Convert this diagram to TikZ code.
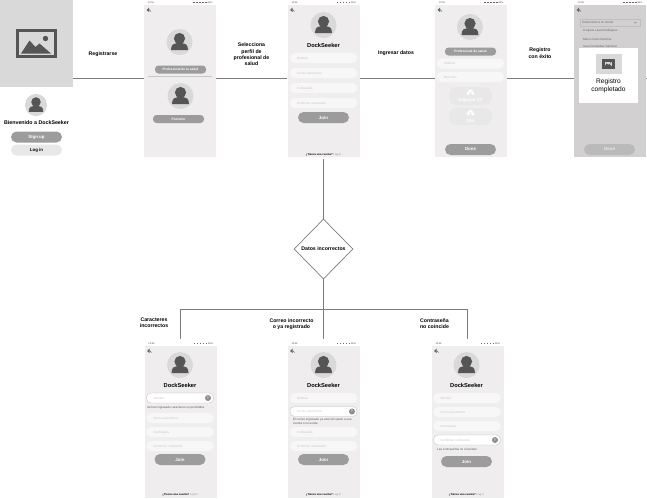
\documentclass[tikz,border=0pt]{standalone}
\usepackage{fontspec}
\setmainfont{Liberation Sans}
\usetikzlibrary{shapes.geometric}

\definecolor{screenbg}{HTML}{EFEDEE}
\definecolor{screendim}{HTML}{D2D0D1}
\definecolor{imggray}{HTML}{D9D9D9}
\definecolor{icondark}{HTML}{555555}
\definecolor{pillgray}{HTML}{9C9C9C}
\definecolor{linegray}{HTML}{7C7C7C}
\definecolor{hintgray}{HTML}{C4C2C3}

\tikzset{
  screen/.style = {rectangle, minimum width=72, minimum height=157, inner sep=0},
  pill/.style = {rectangle, rounded corners=3.5pt, fill=pillgray, text=white, minimum width=51, minimum height=8, inner sep=0, font=\fontsize{3.3}{4}\selectfont\bfseries},
  bigpill/.style = {pill, rounded corners=5.5pt, minimum height=11, font=\fontsize{4.4}{5}\selectfont\bfseries},
  field/.style = {rectangle, rounded corners=4.5pt, fill=white!55!screenbg, text=hintgray, minimum height=10, text width=53, inner xsep=7, inner ysep=0, align=left, font=\fontsize{3}{3.5}\selectfont},
  badfield/.style = {field, fill=white, draw=black!25, line width=.3pt},
  cloudbtn/.style = {rectangle, rounded corners=8pt, fill=black!9, minimum width=43, inner sep=0},
  btnlabel/.style = {inner sep=0, text=white, font=\fontsize{4.2}{5}\selectfont\bfseries},
  flow/.style = {draw=linegray, line width=1pt},
  steplabel/.style = {align=center, inner sep=0, font=\fontsize{5.2}{6.4}\selectfont\bfseries},
  errtext/.style = {anchor=west, inner sep=0, text=black!65, align=left, font=\fontsize{3}{4}\selectfont},
  listtext/.style = {anchor=west, inner sep=0, text=black!60, font=\fontsize{3}{3.5}\selectfont},
  statustext/.style = {inner sep=0, text=black!70, font=\fontsize{2.4}{3}\selectfont},
  pics/avatar/.style = {code = {
    \fill[imggray] (0,0) circle (13);
    \fill[icondark] (0,-3.5) circle (5.6);
    \fill[icondark] (-8.5,8) .. controls (-8.5,2) and (-5,1.2) .. (-3,1.2) -- (3,1.2) .. controls (5,1.2) and (8.5,2) .. (8.5,8) -- cycle;
  }},
  pics/photo/.style = {code = {
    \draw[icondark, line width=3pt] (-19,-13) rectangle (19,13);
    \fill[icondark] (-15.5,10) -- (-7,-3) -- (-1,3.5) -- (3,0) -- (14.5,10) -- cycle;
    \fill[icondark] (9,-5) circle (2.7);
  }},
  pics/cloudup/.style = {code = {
    \fill[white] (-2.5,1) circle (1.7) (2.5,1) circle (1.7) (0,-.6) circle (2.6);
    \fill[black!9] (0,-1) -- (1.3,.6) -- (.5,.6) -- (.5,2.8) -- (-.5,2.8) -- (-.5,.6) -- (-1.3,.6) -- cycle;
  }}
}

% phone screen with status bar and back arrow
\newcommand{\phoneframe}[4][screenbg]{
  \node[screen, fill=#1] (#2) at (#3,#4) {};
  \begin{scope}[shift={(#3,#4)}]
    \fill[white] (-36,-78.5) rectangle (36,-73.5);
    \node[statustext] at (-29,-76) {12:56};
    \node[statustext] at (30,-76) {96\%};
    \foreach \sx in {14,17,20,23,26} {
      \fill[black!60] (\sx-.9,-76.9) rectangle (\sx+.9,-75.1);
    }
    \fill[black!60] (-33.5,-68.5) -- (-31,-71) -- (-31,-66.5) -- cycle;
    \draw[black!60, line width=.6pt] (-31,-69) -- (-29,-67);
  \end{scope}
}

% avatar, title, join button and footer shared by the forms
\newcommand{\formparts}[4]{
  \pic at (#2,#3-53.5) {avatar};
  \node[inner sep=0, font=\fontsize{5.7}{7}\selectfont\bfseries] (#1title) at (#2,#3-33.5) {DockSeeker};
  \node[bigpill] (#1join) at (#2,#4) {Join};
  \node[inner sep=0, font=\fontsize{2.7}{3}\selectfont] (#1foot) at (#2,#3+76) {\textbf{¿Tienes una cuenta?} \textcolor{black!45}{Log in}};
}

\begin{document}
\begin{tikzpicture}[x=1pt, y=-1pt]
  \useasboundingbox (0,0) rectangle (647,498);

  % welcome screen
  \node[rectangle, fill=imggray, minimum width=73, minimum height=87, inner sep=0] (welcomeimg) at (36.5,43.5) {};
  \pic at (36.5,43.5) {photo};
  \pic[scale=.85] at (36,105) {avatar};
  \node[inner sep=0, font=\fontsize{5.3}{6}\selectfont\bfseries] (welcometitle) at (36.5,123) {Bienvenido a DockSeeker};
  \node[bigpill] (signup) at (36.5,137) {Sign up};
  \node[bigpill, fill=black!9, text=black] (login) at (36.5,150) {Log in};

  % profile choice
  \phoneframe{phoneA}{180}{78.5}
  \pic at (179.5,42) {avatar};
  \node[pill] (prosalud) at (180.5,69.5) {Profesional de la salud};
  \draw[black!22, line width=.6pt] (148,76) -- (212,76);
  \pic at (180.5,96) {avatar};
  \node[pill] (paciente) at (178.5,119) {Paciente};

  % sign up form
  \phoneframe{phoneB}{323.5}{78.5}
  \formparts{phoneB}{323.5}{78.5}{117.5}
  \foreach \fname/\fy/\ftext in {nameB/58/Nombre, mailB/73/Correo electrónico, passB/88/Contraseña, confB/103/Confirmar contraseña} {
    \node[field] (\fname) at (323.5,\fy) {\ftext};
  }

  % professional data
  \phoneframe{phoneC}{471}{78.5}
  \pic at (470,27) {avatar};
  \node[pill] (prodata) at (470.5,51.5) {Profesional de salud};
  \node[field] (phonefield) at (470.5,63.5) {Teléfono};
  \node[field] (addrfield) at (470.5,77) {Dirección};
  \node[cloudbtn, minimum height=18] (cvbtn) at (470.5,96) {};
  \pic at (470.5,92.5) {cloudup};
  \node[btnlabel] at (470.5,100.5) {Adjuntar CV};
  \node[cloudbtn, minimum height=17] (dnibtn) at (470.5,116.5) {};
  \pic at (470.5,113) {cloudup};
  \node[btnlabel] at (470.5,121) {DNI};
  \node[bigpill] (doneC) at (470.5,149.5) {Done};

  % registration finished
  \phoneframe[screendim]{phoneD}{610}{78.5}
  \node[rectangle, draw=black!25, line width=.3pt, minimum width=60, minimum height=7, inner sep=0] (doctorbox) at (610,22.5) {};
  \node[listtext] at (582,22.5) {Seleccionar a su doctor};
  \draw[black!55, line width=.3pt] (634,22) -- (635.2,23.2) -- (636.4,22);
  \foreach \dy/\dname in {31/Cirujano Laura Rodríguez, 39/Marco Cano Ramírez, 46/Sara Fernández Sánchez} {
    \node[listtext] at (583,\dy) {\dname};
  }
  \node[rectangle, fill=white, minimum width=59, minimum height=55, inner sep=0] (dialog) at (608.5,75.5) {};
  \node[rectangle, fill=imggray, minimum width=26, minimum height=20, inner sep=0] (dialogimg) at (608.5,64) {};
  \pic[scale=.25] at (608.5,64) {photo};
  \node[align=center, inner sep=0, font=\fontsize{6.6}{7.8}\selectfont] (dialogtext) at (608.5,86) {Registro\\completado};
  \node[bigpill, fill=black!27, text=black!8] (doneD) at (609.5,149.5) {Done};

  % wrong data
  \node[diamond, draw=linegray, line width=.7pt, minimum width=59, minimum height=60, inner sep=0, font=\fontsize{5.2}{6}\selectfont\bfseries] (wrongdata) at (323.5,249) {Datos incorrectos};

  % error forms
  \phoneframe{errA}{180.5}{419.5}
  \formparts{errA}{180}{418.5}{459.5}
  \foreach \fname/\fy/\ftext in {mailE/418/Correo electrónico, passE/432/Contraseña, confE/446/Confirmar contraseña} {
    \node[field] (\fname) at (180,\fy) {\ftext};
  }
  \node[badfield] (nameE) at (180,398) {Nombre};
  \fill[black!45] (208,398) circle (3);
  \node[btnlabel] at (208,398) {!};
  \node[errtext] (nameerr) at (147,407.5) {Se han ingresado caracteres no permitidos};

  \phoneframe{errB}{323.5}{419.5}
  \formparts{errB}{323.5}{418.5}{459.5}
  \foreach \fname/\fy/\ftext in {nameF/398/Nombre, passF/432/Contraseña, confF/446/Confirmar contraseña} {
    \node[field] (\fname) at (323.5,\fy) {\ftext};
  }
  \node[badfield] (mailF) at (323.5,411.5) {Correo electrónico};
  \fill[black!45] (352,411.5) circle (3);
  \node[btnlabel] at (352,411.5) {!};
  \node[errtext] (mailerr) at (293,421) {El correo ingresado ya está vinculado a una\\cuenta o no existe.};

  \phoneframe{errC}{467.5}{419.5}
  \formparts{errC}{466.5}{418.5}{461.5}
  \foreach \fname/\fy/\ftext in {nameG/398/Nombre, mailG/412/Correo electrónico, passG/426/Contraseña} {
    \node[field] (\fname) at (467,\fy) {\ftext};
  }
  \node[badfield] (confG) at (467,440) {Confirmar contraseña};
  \fill[black!45] (495,440) circle (3);
  \node[btnlabel] at (495,440) {!};
  \node[errtext] (conferr) at (437,449) {Las contraseñas no coinciden.};

  % labels
  \node[steplabel] (lblsignup) at (103,54.5) {Registrarse};
  \node[steplabel] (lblprofile) at (251.5,54.5) {Selecciona\\perfil de\\profesional de\\salud};
  \node[steplabel] (lbldata) at (396,53) {Ingresar datos};
  \node[steplabel] (lbldone) at (540,53) {Registro\\con éxito};
  \node[steplabel] (lblchars) at (154,323) {Caracteres\\incorrectos};
  \node[steplabel] (lblmail) at (291.5,324) {Correo incorrecto\\o ya registrado};
  \node[steplabel] (lblpass) at (434.5,323.5) {Contraseña\\no coincide};

  \coordinate (split) at (323.5,309);
  \coordinate (splitA) at (180.5,309);
  \coordinate (splitC) at (467.5,309);
  \coordinate (edge) at (647,78.5);

  \draw[flow] (welcomeimg.east |- phoneA.west) -- (phoneA.west);
  \draw[flow] (phoneA) -- (phoneB);
  \draw[flow] (phoneB) -- (phoneC);
  \draw[flow] (phoneC) -- (phoneD);
  \draw[flow] (phoneD.east) -- (edge);
  \draw[flow, shorten <=2pt] (phoneB) -- (wrongdata);
  \draw[flow] (wrongdata) -- (split);
  \draw[flow] (splitA) -- (splitC);
  \draw[flow, shorten >=2pt] (splitA) -- (errA);
  \draw[flow, shorten >=2pt] (split) -- (errB);
  \draw[flow, shorten >=2pt] (splitC) -- (errC);
\end{tikzpicture}
\end{document}
